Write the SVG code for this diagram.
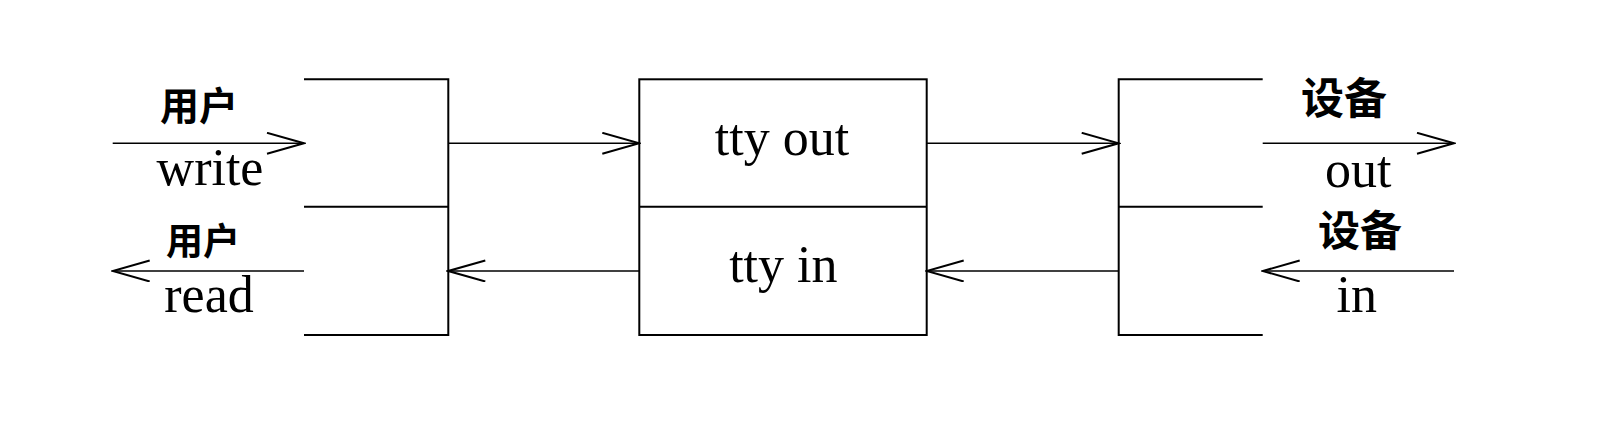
<svg xmlns="http://www.w3.org/2000/svg" width="1608" height="426" viewBox="0 0 1608 426">
<style>
.frame{fill:none;stroke:#000;stroke-width:2}
.conn{fill:none;stroke:#000;stroke-width:1.6}
.lat{font-family:"Liberation Serif","Times New Roman",serif;font-size:52px;fill:#000;text-anchor:middle}
.cjk{font-family:"Liberation Serif","Noto Sans CJK SC",serif;font-weight:bold;fill:#000;text-anchor:middle}
</style>
<defs>
<marker id="open" markerUnits="userSpaceOnUse" markerWidth="40" markerHeight="24" refX="38" refY="11" orient="auto" viewBox="0 0 40 24">
<path d="M1,0.5 L38,11 L1,21.5" fill="none" stroke="#000" stroke-width="2"/>
</marker>
</defs>
<rect width="1608" height="426" fill="#fff"/>
<g id="user-side">
<path class="frame" d="M304,79.3 H448.3 V335 H304 M304,206.7 H448.3"/>
<text class="cjk" x="199" y="120" font-size="39">用户</text>
<text class="lat" x="210" y="185">write</text>
<text class="cjk" x="203" y="255" font-size="37">用户</text>
<text class="lat" x="209" y="311.7">read</text>
</g>
<g id="tty">
<rect class="frame" x="639.3" y="79.3" width="287.4" height="255.7"/>
<line class="frame" x1="639.3" y1="206.7" x2="926.7" y2="206.7"/>
<text class="lat" x="782" y="155">tty out</text>
<text class="lat" x="783.3" y="281.7">tty in</text>
</g>
<g id="device-side">
<path class="frame" d="M1262.7,79.3 H1118.7 V335 H1262.7 M1118.7,206.7 H1262.7"/>
<text class="cjk" x="1344" y="114" font-size="43">设备</text>
<text class="lat" x="1358.3" y="186.7">out</text>
<text class="cjk" x="1360" y="246" font-size="42">设备</text>
<text class="lat" x="1356.7" y="311.7">in</text>
</g>
<g id="connectors">
<line class="conn" x1="112.7" y1="143.3" x2="304" y2="143.3" marker-end="url(#open)"/>
<line class="conn" x1="448.3" y1="143.3" x2="639.3" y2="143.3" marker-end="url(#open)"/>
<line class="conn" x1="926.7" y1="143.3" x2="1118.7" y2="143.3" marker-end="url(#open)"/>
<line class="conn" x1="1262.7" y1="143.3" x2="1454" y2="143.3" marker-end="url(#open)"/>
<line class="conn" x1="304" y1="271" x2="112.7" y2="271" marker-end="url(#open)"/>
<line class="conn" x1="639.3" y1="271" x2="448.3" y2="271" marker-end="url(#open)"/>
<line class="conn" x1="1118.7" y1="271" x2="926.7" y2="271" marker-end="url(#open)"/>
<line class="conn" x1="1454" y1="271" x2="1262.7" y2="271" marker-end="url(#open)"/>
</g>
</svg>
